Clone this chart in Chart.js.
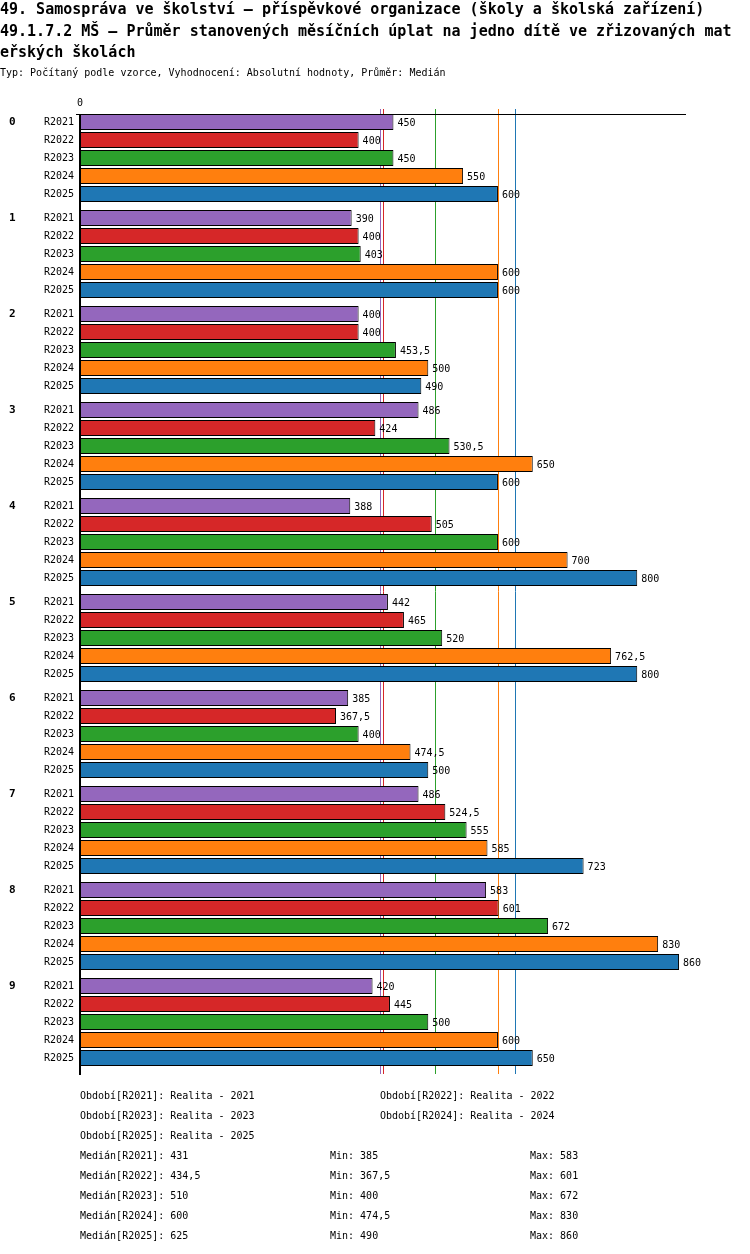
<!DOCTYPE html>
<html>
<head>
<meta charset="utf-8">
<script src="https://cdn.jsdelivr.net/npm/chart.js@4/dist/chart.umd.min.js"></script>
<style>
  html, body { margin: 0; padding: 0; background: #fff; }
  #wrap { position: relative; width: 750px; height: 1254px; overflow: hidden; }
  canvas { position: absolute; left: 0; top: 0; }
  .t { position: absolute; font-family: "DejaVu Sans Mono", monospace; color: #000; white-space: pre; }
  .h { font-size: 15px; font-weight: bold; line-height: 21.5px; left: 0; }
  .s { font-size: 10px; line-height: 12px; }
</style>
</head>
<body>
<div id="wrap">
  <canvas id="c" width="750" height="1254"></canvas>
  <div class="t h" style="top:-1px">49. Samospráva ve školství – příspěvkové organizace (školy a školská zařízení)<br>49.1.7.2 MŠ – Průměr stanovených měsíčních úplat na jedno dítě ve zřizovaných mat<br>eřských školách</div>
  <div class="t s" style="left:0;top:67px">Typ: Počítaný podle vzorce, Vyhodnocení: Absolutní hodnoty, Průměr: Medián</div>
  <div id="foot"></div>
</div>
<script>
const groups = ['0','1','2','3','4','5','6','7','8','9'];
const seriesNames = ['R2021','R2022','R2023','R2024','R2025'];
const seriesDesc = ['Realita - 2021','Realita - 2022','Realita - 2023','Realita - 2024','Realita - 2025'];
const r2021 = [450, 390, 400, 486, 388, 442, 385, 486, 583, 420];
const r2022 = [400, 400, 400, 424, 505, 465, 367.5, 524.5, 601, 445];
const r2023 = [450, 403, 453.5, 530.5, 600, 520, 400, 555, 672, 500];
const r2024 = [550, 600, 500, 650, 700, 762.5, 474.5, 585, 830, 600];
const r2025 = [600, 600, 490, 600, 800, 800, 500, 723, 860, 650];
const medians = [431, 434.5, 510, 600, 625];
const mins = [385, 367.5, 400, 474.5, 490];
const maxs = [583, 601, 672, 830, 860];
const colors = ['#9467bd', '#d62728', '#2ca02c', '#ff7f0e', '#1f77b4'];
const xMax = 870;

const fmt = v => String(v).replace('.', ',');
const FONT = '"DejaVu Sans Mono", monospace';

const seriesData = [r2021, r2022, r2023, r2024, r2025];

const overlay = {
  id: 'overlay',
  beforeDatasetsDraw(chart) {
    const ctx = chart.ctx, a = chart.chartArea, xs = chart.scales.x;
    ctx.save();
    ctx.lineWidth = 1;
    medians.forEach((m, i) => {
      const x = Math.round(xs.getPixelForValue(m)) + 0.5;
      ctx.strokeStyle = colors[i];
      ctx.beginPath();
      ctx.moveTo(x, a.top - 1);
      ctx.lineTo(x, a.bottom + 4);
      ctx.stroke();
    });
    ctx.restore();
  },
  afterDatasetsDraw(chart) {
    const ctx = chart.ctx, a = chart.chartArea, xs = chart.scales.x;
    const x0 = xs.getPixelForValue(0);
    ctx.save();
    // axes
    ctx.strokeStyle = '#000';
    ctx.lineWidth = 1;
    ctx.beginPath();
    ctx.moveTo(x0 - 4, a.top + 4.5);
    ctx.lineTo(a.right, a.top + 4.5);
    ctx.stroke();
    ctx.lineWidth = 2;
    ctx.beginPath();
    ctx.moveTo(x0, a.top + 4);
    ctx.lineTo(x0, a.bottom + 5);
    ctx.stroke();
    // zero tick label
    ctx.fillStyle = '#000';
    ctx.font = '10px ' + FONT;
    ctx.textAlign = 'center';
    ctx.textBaseline = 'middle';
    ctx.fillText('0', x0, a.top - 7);
    // labels
    seriesData.forEach((arr, d) => {
      const meta = chart.getDatasetMeta(d);
      meta.data.forEach((bar, i) => {
        ctx.font = '10px ' + FONT;
        ctx.textAlign = 'right';
        ctx.textBaseline = 'middle';
        ctx.fillText(seriesNames[d], x0 - 6, bar.y);
        ctx.textAlign = 'left';
        ctx.fillText(fmt(arr[i]), bar.x + 4, bar.y + 1);
        if (d === 0) {
          ctx.font = 'bold 11px ' + FONT;
          ctx.fillText(groups[i], 9, bar.y);
        }
      });
    });
    ctx.restore();
  }
};

new Chart(document.getElementById('c'), {
  type: 'bar',
  data: {
    labels: groups,
    datasets: seriesData.map((arr, d) => ({
      label: seriesNames[d],
      data: arr,
      backgroundColor: colors[d],
      borderColor: '#000',
      borderWidth: 1,
      borderSkipped: false,
      categoryPercentage: 90 / 96,
      barPercentage: 16 / 18
    }))
  },
  options: {
    indexAxis: 'y',
    responsive: false,
    animation: false,
    devicePixelRatio: 1,
    layout: { padding: { left: 80, right: 64, top: 110, bottom: 184 } },
    plugins: { legend: { display: false }, tooltip: { enabled: false } },
    scales: {
      x: { display: false, min: 0, max: xMax },
      y: { display: false }
    }
  },
  plugins: [overlay]
});

// footer
const foot = document.getElementById('foot');
function addText(txt, x, yc) {
  const d = document.createElement('div');
  d.className = 't s';
  d.style.left = x + 'px';
  d.style.top = (yc - 6) + 'px';
  d.textContent = txt;
  foot.appendChild(d);
}
let y = 1096;
for (let i = 0; i < seriesNames.length; i += 2) {
  addText('Období[' + seriesNames[i] + ']: ' + seriesDesc[i], 80, y);
  if (i + 1 < seriesNames.length) addText('Období[' + seriesNames[i + 1] + ']: ' + seriesDesc[i + 1], 380, y);
  y += 20;
}
seriesNames.forEach((n, i) => {
  addText('Medián[' + n + ']: ' + fmt(medians[i]), 80, y);
  addText('Min: ' + fmt(mins[i]), 330, y);
  addText('Max: ' + fmt(maxs[i]), 530, y);
  y += 20;
});
</script>
</body>
</html>
